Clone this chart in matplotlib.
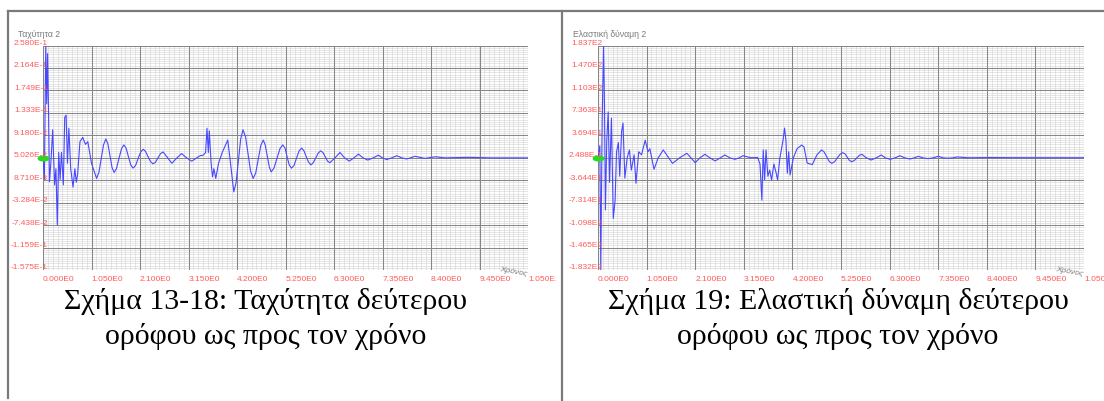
import numpy as np
import matplotlib
matplotlib.use('Agg')
import matplotlib.pyplot as plt
from matplotlib.path import Path
from matplotlib.transforms import Affine2D, Bbox, TransformedBbox, ScaledTranslation
from matplotlib.lines import Line2D

W, H = 1104, 401

# velocity of the second floor (time in s)
vel_t = [0.00, 0.03, 0.06, 0.08, 0.10, 0.12, 0.14, 0.17, 0.21, 0.25, 0.28, 0.31,
         0.34, 0.37, 0.40, 0.44, 0.47, 0.50, 0.53, 0.56, 0.60, 0.65, 0.69, 0.72,
         0.75, 0.80, 0.86, 0.92, 0.97, 1.05, 1.16, 1.21, 1.26, 1.31, 1.36, 1.405,
         1.45, 1.495, 1.54, 1.59, 1.645, 1.70, 1.75, 1.80, 1.85, 1.90, 1.95, 2.005,
         2.06, 2.115, 2.17, 2.22, 2.275, 2.33, 2.38, 2.435, 2.49, 2.545, 2.60, 2.70,
         2.79, 2.90, 3.00, 3.11, 3.22, 3.40, 3.47, 3.52, 3.55, 3.58, 3.60, 3.64,
         3.67, 3.70, 3.74, 3.80, 3.88, 4.00, 4.06, 4.13, 4.18, 4.23, 4.28, 4.33,
         4.385, 4.44, 4.495, 4.55, 4.605, 4.66, 4.715, 4.77, 4.81, 4.855, 4.90,
         4.94, 5.00, 5.065, 5.13, 5.19, 5.24, 5.285, 5.33, 5.38, 5.435, 5.49,
         5.545, 5.60, 5.65, 5.70, 5.75, 5.80, 5.85, 5.905, 5.96, 6.01, 6.06, 6.11,
         6.16, 6.21, 6.32, 6.43, 6.53, 6.63, 6.73, 6.83, 6.93, 7.03, 7.15, 7.26,
         7.35, 7.44, 7.55, 7.66, 7.77, 7.87, 7.96, 8.05, 8.27, 8.49, 8.70, 9.20,
         9.70, 10.50]
vel_v = [0.050, 0.010, 0.258, 0.150, 0.243, 0.133, 0.006, 0.040, 0.102, 0.000,
         0.030, -0.074, 0.060, 0.010, 0.060, 0.000, 0.125, 0.129, 0.040, 0.105,
         0.030, -0.004, 0.030, 0.005, 0.020, 0.080, 0.088, 0.075, 0.080, 0.040,
         0.012, 0.023, 0.049, 0.074, 0.085, 0.076, 0.054, 0.032, 0.023, 0.030,
         0.049, 0.067, 0.074, 0.068, 0.052, 0.037, 0.031, 0.036, 0.049, 0.061,
         0.066, 0.062, 0.052, 0.043, 0.039, 0.042, 0.050, 0.058, 0.061, 0.050,
         0.040, 0.050, 0.058, 0.050, 0.044, 0.054, 0.055, 0.060, 0.105, 0.060,
         0.100, 0.040, 0.015, 0.030, 0.012, 0.040, 0.060, 0.083, 0.040, -0.013,
         0.004, 0.045, 0.085, 0.102, 0.089, 0.057, 0.025, 0.012, 0.022, 0.048,
         0.073, 0.083, 0.074, 0.053, 0.033, 0.024, 0.031, 0.049, 0.067, 0.074,
         0.068, 0.052, 0.037, 0.031, 0.036, 0.050, 0.063, 0.068, 0.063, 0.052,
         0.042, 0.037, 0.041, 0.050, 0.059, 0.063, 0.060, 0.052, 0.044, 0.041,
         0.050, 0.060, 0.050, 0.044, 0.050, 0.057, 0.050, 0.046, 0.050, 0.055,
         0.050, 0.047, 0.050, 0.054, 0.050, 0.048, 0.050, 0.053, 0.049, 0.052,
         0.050, 0.051, 0.050, 0.050]

# elastic force of the second floor
frc_t = [0.00, 0.04, 0.06, 0.09, 0.12, 0.14, 0.16, 0.19, 0.22, 0.25, 0.29, 0.33,
         0.37, 0.40, 0.44, 0.47, 0.51, 0.54, 0.58, 0.63, 0.68, 0.72, 0.78, 0.82,
         0.88, 0.94, 1.02, 1.08, 1.12, 1.21, 1.30, 1.41, 1.51, 1.61, 1.76, 1.92,
         2.01, 2.10, 2.20, 2.31, 2.42, 2.53, 2.64, 2.74, 2.85, 2.96, 3.05, 3.13,
         3.30, 3.45, 3.50, 3.54, 3.57, 3.60, 3.63, 3.67, 3.71, 3.75, 3.80, 3.85,
         3.88, 3.93, 4.00, 4.03, 4.06, 4.09, 4.12, 4.15, 4.22, 4.30, 4.40, 4.45,
         4.52, 4.63, 4.73, 4.83, 4.885, 4.94, 4.995, 5.05, 5.11, 5.17, 5.23, 5.29,
         5.34, 5.385, 5.43, 5.48, 5.535, 5.59, 5.645, 5.70, 5.80, 5.90, 6.01, 6.12,
         6.21, 6.31, 6.42, 6.52, 6.63, 6.74, 6.83, 6.92, 7.02, 7.13, 7.24, 7.35,
         7.46, 7.56, 7.66, 7.76, 8.00, 8.50, 9.00, 10.50]
frc_v = [0.25, 20.0, -183.0, 60.0, 183.7, 90.0, -85.0, 30.0, 75.0, -40.0, 65.0,
         -99.0, -69.0, 10.0, 25.0, -30.0, 43.0, 57.0, -33.0, 0.0, 13.0, -20.0,
         5.0, -41.5, 10.0, 5.0, 29.0, 10.0, 15.0, -18.6, 0.0, 13.0, 2.0, -8.9,
         0.0, 7.5, 0.0, -7.8, 0.0, 5.9, 0.0, -5.0, 0.0, 4.8, 0.0, -2.3, 0.0, 3.6,
         0.3, 0.5, -10.0, -69.0, 13.0, -36.0, 13.0, -30.0, -20.0, -36.0, -10.0,
         -25.0, -36.0, 0.0, 30.0, 48.8, 29.0, -25.0, 10.0, -28.0, 0.0, 15.0, 21.0,
         18.0, -8.5, -11.0, 5.0, 13.0, 9.8, 2.0, -5.7, -8.9, -6.4, -0.2, 6.0, 8.5,
         6.4, 1.2, -4.0, -6.2, -4.4, -0.2, 4.1, 5.9, 0.0, -3.4, 0.0, 4.8, 0.0,
         -2.3, 0.0, 3.6, 0.0, -1.8, 0.0, 2.6, 0.0, -1.2, 0.0, 2.6, 0.0, -0.5, 0.0,
         1.5, 0.2, 0.6, 0.3, 0.25]

x_labels = ['0.000E0', '1.050E0', '2.100E0', '3.150E0', '4.200E0', '5.250E0',
            '6.300E0', '7.350E0', '8.400E0', '9.450E0', '1.050E1']
vel_labels = ['2.580E-1', '2.164E-1', '1.749E-1', '1.333E-1', '9.180E-2', '5.026E-2',
              '8.710E-3', '-3.284E-2', '-7.438E-2', '-1.159E-1', '-1.575E-1']
frc_labels = ['1.837E2', '1.470E2', '1.103E2', '7.363E1', '3.694E1', '2.488E-1',
              '-3.644E1', '-7.314E1', '-1.098E2', '-1.465E2', '-1.832E2']

captions = ['Σχήμα 13-18: Ταχύτητα δεύτερου\nορόφου ως προς τον χρόνο',
            'Σχήμα 19: Ελαστική δύναμη δεύτερου\nορόφου ως προς τον χρόνο']

red = '#ff5a5a'
grey_text = '#7a7a7a'


def plotpanel(fig, rect, t, v, ylabels, title, clip_right):

    '''
    draw one time-history panel with dense graph-paper grid
    '''

    ax = fig.add_axes(rect)
    xmax = 10.5
    ymax = float(ylabels[0])
    ymin = float(ylabels[-1])
    ax.set_xlim(0, xmax)
    ax.set_ylim(ymin, ymax)

    xt = np.linspace(0, xmax, 11)
    yt = np.linspace(ymax, ymin, 11)

    # minor and major grid lines
    for x in np.linspace(0, xmax, 101):
        ax.axvline(x, color='#d6d6d6', lw=0.45, zorder=1)
    for y in np.linspace(ymin, ymax, 101):
        ax.axhline(y, color='#d6d6d6', lw=0.45, zorder=1)
    for x in xt:
        ax.axvline(x, color='#868686', lw=0.75, zorder=2)
    for y in yt:
        ax.axhline(y, color='#868686', lw=0.75, zorder=2)

    for s in ax.spines.values():
        s.set_visible(False)
    ax.set_xticks([])
    ax.set_yticks([])

    ax.plot(t, v, color='#4848ff', lw=0.8, zorder=3)

    # green start marker
    ell = Path.unit_circle().transformed(Affine2D().scale(2.2, 1.0))
    ax.plot(t[0], v[0], marker=ell, ms=7.5, color='#22dd22', mec='#22dd22',
            clip_on=False, zorder=4)

    # tick labels
    off = ScaledTranslation(3.5 / 72, 1.5 / 72, fig.dpi_scale_trans)
    for y, lab in zip(yt, ylabels):
        ax.text(0, y, lab, transform=ax.get_yaxis_transform() + off,
                ha='right', va='center', fontsize=6, color=red,
                family='Liberation Sans', zorder=5)
    off = ScaledTranslation(0, -6.5 / 72, fig.dpi_scale_trans)
    for x, lab in zip(xt, x_labels):
        tx = ax.text(x, 0, lab, transform=ax.get_xaxis_transform() + off,
                     ha='left', va='center', fontsize=6, color=red,
                     family='Liberation Sans', clip_on=True)
        tx.set_clip_box(TransformedBbox(Bbox([[0, 0], [clip_right, 1]]),
                                        fig.transFigure))

    off = ScaledTranslation(-18 / 72, 5 / 72, fig.dpi_scale_trans)
    ax.text(0, 1, title, transform=ax.transAxes + off, ha='left', va='bottom',
            fontsize=6.2, color=grey_text, family='Liberation Sans')
    off = ScaledTranslation(0, -1.5 / 72, fig.dpi_scale_trans)
    ax.text(1, 0, 'Χρόνος', transform=ax.transAxes + off, ha='right',
            va='center', fontsize=6, color=grey_text, family='Liberation Sans',
            rotation=-10, style='italic')
    return ax


fig = plt.figure(figsize=(W / 100, H / 100), dpi=100)

y0 = (H - 270) / H
hgt = 224.5 / H
plotpanel(fig, [43 / W, y0, 485 / W, hgt], vel_t, vel_v, vel_labels,
          'Ταχύτητα 2', 556 / W)
plotpanel(fig, [598 / W, y0, 486 / W, hgt], frc_t, frc_v, frc_labels,
          'Ελαστική δύναμη 2', 1.0)

# table borders around the two figures
bc = '#7a7a7a'
fig.add_artist(Line2D([8 / W, 1], [1 - 11 / H, 1 - 11 / H], color=bc, lw=1.6,
                      transform=fig.transFigure))
fig.add_artist(Line2D([8 / W, 8 / W], [1 - 11 / H, 1 - 398 / H], color=bc,
                      lw=1.6, transform=fig.transFigure))
fig.add_artist(Line2D([561.5 / W, 561.5 / W], [1 - 11 / H, 0], color=bc,
                      lw=1.6, transform=fig.transFigure))

# captions
for cx, cap in zip([266 / W, 838 / W], captions):
    fig.text(cx, 1 - 319 / H, cap, ha='center', va='center', fontsize=21.5,
             family='Liberation Serif', linespacing=1.37)

fig.savefig('out.png', dpi=100)
